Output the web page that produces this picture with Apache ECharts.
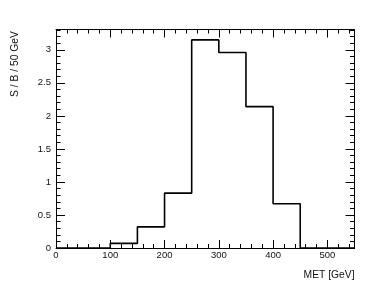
<!DOCTYPE html>
<html>
<head>
<meta charset="utf-8">
<script src="https://cdn.jsdelivr.net/npm/echarts@6/dist/echarts.min.js"></script>
<style>
html,body{margin:0;padding:0;background:#fff;}
#c{width:374px;height:292px;}
</style>
</head>
<body>
<div id="c"></div>
<script>
// Bin lower edges (GeV) and S/B values per 50 GeV bin
var binEdges = [0, 50, 100, 150, 200, 250, 300, 350, 400, 450, 500];
var binValues = [0, 0, 0.07, 0.32, 0.83, 3.15, 2.96, 2.14, 0.67, 0, 0];
var xUpper = 550;
var yTop = 3.3075;
var xTitle = 'MET [GeV]';
var yTitle = 'S / B / 50 GeV';

var stepData = [];
for (var i = 0; i < binEdges.length; i++) stepData.push([binEdges[i], binValues[i]]);
stepData.push([xUpper, 0]);

var font = 'Liberation Sans, Arial, Helvetica, sans-serif';
var fsTick = 9.5;
var fsTitle = 10.3;
function xAx(pos, showLabels) {
  return {
    type: 'value', position: pos, min: 0, max: xUpper, interval: 100,
    axisLine: {show: true, onZero: false, lineStyle: {color: '#000', width: 1}},
    axisTick: {show: true, inside: true, length: 8, lineStyle: {color: '#000'}},
    minorTick: {show: true, splitNumber: 5, length: 4, lineStyle: {color: '#000'}},
    axisLabel: {show: showLabels, color: '#111', fontFamily: font, fontSize: fsTick, margin: 2, showMaxLabel: false},
    splitLine: {show: false}
  };
}
function yAx(pos, showLabels) {
  return {
    type: 'value', position: pos, min: 0, max: yTop, interval: 0.5,
    axisLine: {show: true, onZero: false, lineStyle: {color: '#000', width: 1}},
    axisTick: {show: true, inside: true, length: 9, lineStyle: {color: '#000'}},
    minorTick: {show: true, splitNumber: 5, length: 4.5, lineStyle: {color: '#000'}},
    axisLabel: {show: showLabels, color: '#111', fontFamily: font, fontSize: fsTick, margin: 5, showMaxLabel: false, padding: [0, 0, 2, 0]},
    splitLine: {show: false}
  };
}

var chart = echarts.init(document.getElementById('c'), null, {renderer: 'canvas'});
chart.setOption({
  animation: false,
  backgroundColor: '#fff',
  grid: {left: 56, right: 19.5, top: 29.5, bottom: 44},
  xAxis: [xAx('bottom', true), xAx('top', false)],
  yAxis: [yAx('left', true), yAx('right', false)],
  series: [{
    type: 'line', xAxisIndex: 0, yAxisIndex: 0,
    step: 'end', data: stepData, symbol: 'none',
    lineStyle: {color: '#000', width: 1.6}
  }],
  graphic: [
    {type: 'text', x: 15, y: 97, rotation: Math.PI / 2,
     style: {text: yTitle, fill: '#111', font: fsTitle + 'px ' + font, textAlign: 'left', textVerticalAlign: 'middle'}},
    {type: 'text', right: 19.5, top: 270,
     style: {text: xTitle, fill: '#111', font: fsTitle + 'px ' + font}}
  ]
});
</script>
</body>
</html>
